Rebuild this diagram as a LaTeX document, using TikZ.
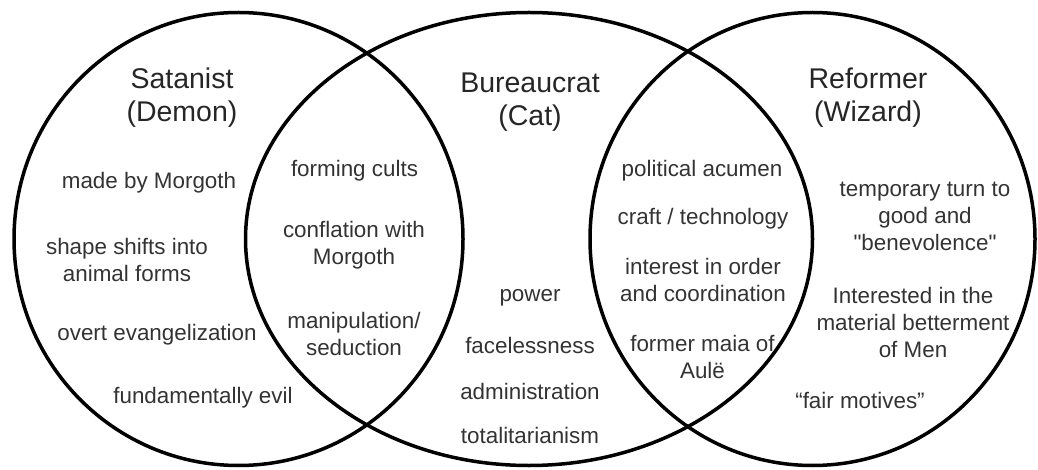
\documentclass[tikz,border=0pt]{standalone}
\usepackage{fontspec}
\setmainfont{Liberation Sans}[Ligatures=TeXOff]
\usepackage{xcolor}
\usepackage{tikz}
\definecolor{ringblack}{HTML}{000000}
\definecolor{headgray}{HTML}{262626}
\definecolor{itemgray}{HTML}{333333}

\tikzset{
  ring/.style={draw=ringblack, line width=3.5pt},
  headtext/.style={text=headgray, align=center, inner sep=0pt, font=\fontsize{28.5}{33}\selectfont},
  itemtext/.style={text=itemgray, align=center, inner sep=0pt, font=\fontsize{22.4}{27}\selectfont}
}

\begin{document}
\begin{tikzpicture}[x=1pt, y=-1pt]
  \useasboundingbox (0,0) rectangle (1038,470);

  % Three rings
  \draw[ring] (238.5,239) ellipse [x radius=224.5pt, y radius=226.5pt];
  \draw[ring] (529,239) ellipse [x radius=283.5pt, y radius=226.5pt];
  \draw[ring] (812.5,239) ellipse [x radius=222.5pt, y radius=226.5pt];

  % Headings
  \node[headtext] (satanist) at (182,97.5) {Satanist\\(Demon)};
  \node[headtext] (bureaucrat) at (530,102) {Bureaucrat\\(Cat)};
  \node[headtext] (reformer) at (868,97.5) {Reformer\\(Wizard)};

  % Demon only
  \node[itemtext] (madeby) at (149,182.5) {made by Morgoth};
  \node[itemtext] (shapeshift) at (127,259.5) {shape shifts into\\animal forms};
  \node[itemtext] (evangel) at (157,335) {overt evangelization};
  \node[itemtext] (evil) at (203,397.5) {fundamentally evil};

  % Demon and Cat
  \node[itemtext] (cults) at (354.5,170.5) {forming cults};
  \node[itemtext] (conflation) at (354,245.5) {conflation with\\Morgoth};
  \node[itemtext] (seduction) at (354,334) {manipulation/\\seduction};

  % Cat only
  \node[itemtext] (power) at (530,298) {power};
  \node[itemtext] (faceless) at (530,345.5) {facelessness};
  \node[itemtext] (admin) at (530,391) {administration};
  \node[itemtext] (total) at (530,435.5) {totalitarianism};

  % Cat and Wizard
  \node[itemtext] (acumen) at (702,170.5) {political acumen};
  \node[itemtext] (craft) at (703,219) {craft / technology};
  \node[itemtext] (order) at (703,280) {interest in order\\and coordination};
  \node[itemtext] (maia) at (702.5,357) {former maia of\\Aulë};

  % Wizard only
  \node[itemtext] (turn) at (925,216.5) {temporary turn to\\good and\\"benevolence"};
  \node[itemtext] (betterment) at (913,322) {Interested in the\\material betterment\\of Men};
  \node[itemtext] (motives) at (860,400) {“fair motives”};
\end{tikzpicture}
\end{document}
